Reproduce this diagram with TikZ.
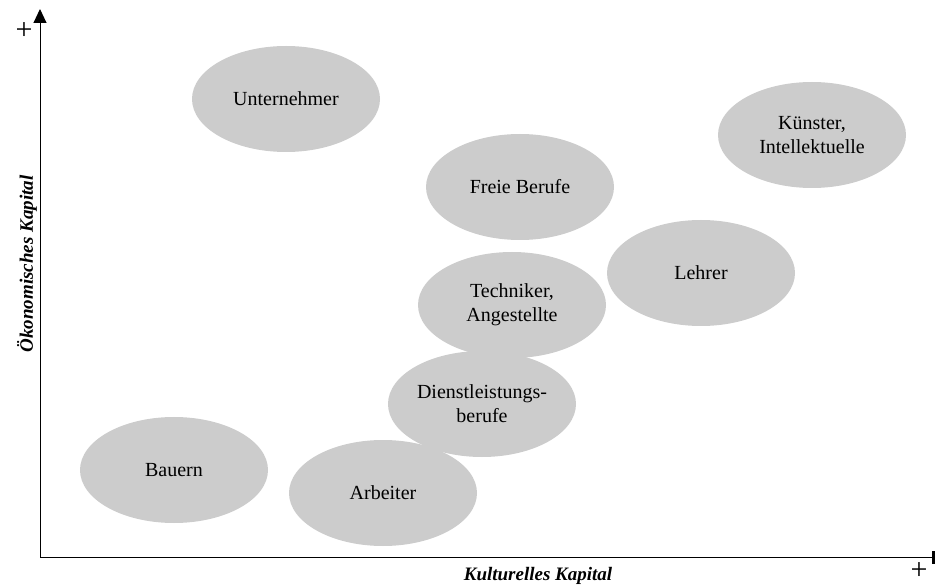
\documentclass[tikz,border=0pt]{standalone}
\usepackage{fontspec}
\setmainfont{Liberation Serif}
\usetikzlibrary{arrows.meta,shapes.geometric}
\definecolor{blobgray}{RGB}{204,204,204}
\begin{document}
\begin{tikzpicture}[x=1pt,y=-1pt,
  blob/.style={ellipse,fill=blobgray,minimum width=188pt,minimum height=106pt,inner sep=0pt,align=center,font=\fontsize{20}{24}\selectfont},
  axlabel/.style={font=\fontsize{19}{22}\selectfont\bfseries\itshape,inner sep=0pt},
  plus/.style={font=\fontsize{30}{30}\selectfont,inner sep=0pt}]
\useasboundingbox (0,0) rectangle (935,585);
% axes
\coordinate (O) at (40,557);
\coordinate (ytop) at (40,9);
\coordinate (xend) at (935,557);
\draw[line width=1pt,-{Triangle[length=14pt,width=13pt]}] (O) -- (ytop);
\draw[line width=1pt] (O) -- (xend);
\fill (932,551) rectangle (935,564);
\node[plus] (yplus) at (24,31) {+};
\node[plus] (xplus) at (919,571) {+};
\node[axlabel] (xlab) at (538,576) {Kulturelles Kapital};
\node[axlabel,rotate=90] (ylab) at (27,264) {Ökonomisches Kapital};
% ellipses
\node[blob] (unt) at (286,99) {Unternehmer};
\node[blob] (kue) at (812,135) {Künster,\\Intellektuelle};
\node[blob] (frei) at (520,187) {Freie Berufe};
\node[blob] (leh) at (701,273) {Lehrer};
\node[blob] (tech) at (512,305) {Techniker,\\Angestellte};
\node[blob] (arb) at (383,493) {Arbeiter};
\node[blob] (dien) at (482,404) {Dienstleistungs-\\berufe};
\node[blob] (bau) at (174,470) {Bauern};
\end{tikzpicture}
\end{document}
